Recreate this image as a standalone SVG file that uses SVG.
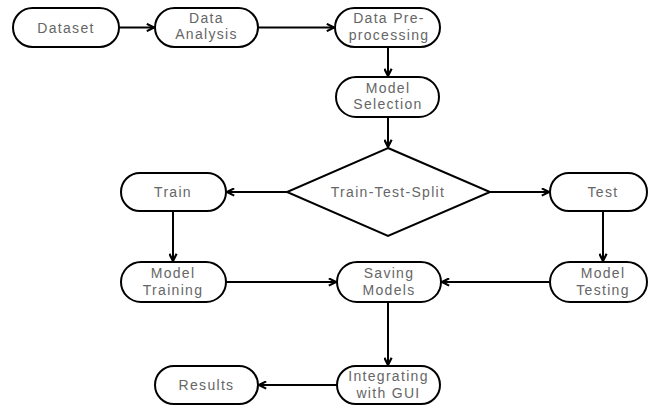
<svg xmlns="http://www.w3.org/2000/svg" width="649" height="408" viewBox="0 0 649 408">
<style>
.n{fill:#fff;stroke:#000;stroke-width:2}
.t{font-family:"Liberation Sans",Arial,sans-serif;font-size:14px;fill:#666;text-anchor:middle;letter-spacing:1.3px}
.c{fill:none;stroke:#000;stroke-width:2}
</style>
<defs>
<marker id="ah" viewBox="0 0 10 10" refX="9" refY="5" markerWidth="4.5" markerHeight="4.5" orient="auto" markerUnits="strokeWidth">
<path d="M1,1 L9,5 L1,9" fill="none" stroke="#000" stroke-width="2.4"/>
</marker>
</defs>
<rect width="649" height="408" fill="#fff"/>
<g id="connectors">
<line class="c" x1="119" y1="27.5" x2="154" y2="27.5" marker-end="url(#ah)"/>
<line class="c" x1="258" y1="27.5" x2="334" y2="27.5" marker-end="url(#ah)"/>
<line class="c" x1="388" y1="47" x2="388" y2="76" marker-end="url(#ah)"/>
<line class="c" x1="388" y1="117" x2="388" y2="147" marker-end="url(#ah)"/>
<line class="c" x1="287" y1="192" x2="227" y2="192" marker-end="url(#ah)"/>
<line class="c" x1="490" y1="192" x2="549" y2="192" marker-end="url(#ah)"/>
<line class="c" x1="173" y1="211" x2="173" y2="261" marker-end="url(#ah)"/>
<line class="c" x1="603" y1="211" x2="603" y2="261" marker-end="url(#ah)"/>
<line class="c" x1="226" y1="282" x2="336" y2="282" marker-end="url(#ah)"/>
<line class="c" x1="550" y1="282" x2="442" y2="282" marker-end="url(#ah)"/>
<line class="c" x1="388" y1="302" x2="388" y2="365" marker-end="url(#ah)"/>
<line class="c" x1="337" y1="385" x2="259" y2="385" marker-end="url(#ah)"/>
</g>
<g id="dataset"><rect class="n" x="13" y="8" width="106" height="39" rx="19.5"/><text class="t" x="66" y="32.5">Dataset</text></g>
<g id="data-analysis"><rect class="n" x="155" y="8" width="103" height="39" rx="19.5"/><text class="t" x="206.5" y="22.5">Data</text><text class="t" x="206.5" y="39">Analysis</text></g>
<g id="data-preprocessing"><rect class="n" x="335" y="8" width="105" height="39" rx="19.5"/><text class="t" x="389" y="23">Data Pre-</text><text class="t" x="389" y="40">processing</text></g>
<g id="model-selection"><rect class="n" x="336" y="77" width="103" height="40" rx="20"/><text class="t" x="388" y="92.5">Model</text><text class="t" x="388" y="109">Selection</text></g>
<g id="train-test-split"><polygon class="n" points="388,148 490,192 388,236 287,192"/><text class="t" x="388" y="197">Train-Test-Split</text></g>
<g id="train"><rect class="n" x="121" y="173" width="105" height="38" rx="19"/><text class="t" x="173" y="197">Train</text></g>
<g id="test"><rect class="n" x="550" y="173" width="97" height="38" rx="19"/><text class="t" x="603" y="197">Test</text></g>
<g id="model-training"><rect class="n" x="121" y="262" width="105" height="40" rx="20"/><text class="t" x="173" y="277.5">Model</text><text class="t" x="173" y="294.5">Training</text></g>
<g id="saving-models"><rect class="n" x="337" y="262" width="104" height="40" rx="20"/><text class="t" x="389" y="277.5">Saving</text><text class="t" x="389" y="294.5">Models</text></g>
<g id="model-testing"><rect class="n" x="550" y="262" width="97" height="40" rx="20"/><text class="t" x="603" y="277.5">Model</text><text class="t" x="603" y="294.5">Testing</text></g>
<g id="results"><rect class="n" x="155" y="366" width="103" height="38" rx="19"/><text class="t" x="206.5" y="390">Results</text></g>
<g id="integrating-gui"><rect class="n" x="337" y="366" width="103" height="38" rx="19"/><text class="t" x="388.5" y="381">Integrating</text><text class="t" x="388.5" y="398">with GUI</text></g>
</svg>
